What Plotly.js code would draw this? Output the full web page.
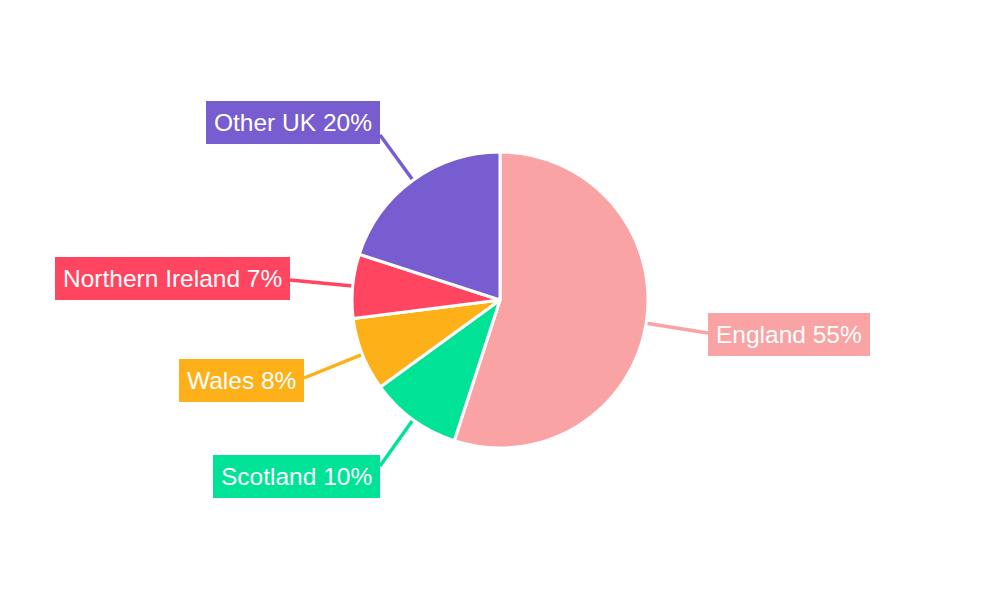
<!DOCTYPE html>
<html>
<head>
<meta charset="utf-8">
<script src="https://cdn.plot.ly/plotly-3.0.1.min.js"></script>
<style>html,body{margin:0;padding:0;background:#fff;}#chart{width:1000px;height:600px;}</style>
</head>
<body>
<div id="chart"></div>
<script>
// Data
const regions = ["England", "Scotland", "Wales", "Northern Ireland", "Other UK"];
const shares = [55, 10, 8, 7, 20];
const colors = ["#F9A3A4", "#00E396", "#FEB019", "#FF4560", "#775DD0"];

// Label layout (pixels): box anchor side, box edge x, box centre y, leader end y
const labelSide = ["left", "right", "right", "right", "right"];
const labelEdgeX = [708, 380, 304, 290, 380];
const labelCenterY = [334, 476, 380, 278, 122];
const leaderEndY = [333, 466, 378, 280, 135];

const W = 1000, H = 600, CX = 500, CY = 300, R = 148;
const px2x = p => p / W;
const px2y = p => 1 - p / H;

const total = shares.reduce((a, b) => a + b, 0);
let cum = 0;
const shapes = [], annotations = [];
shares.forEach((v, i) => {
  const mid = (cum + v / 2) / total * 2 * Math.PI;
  cum += v;
  const hx = CX + R * Math.sin(mid);
  const hy = CY - R * Math.cos(mid);
  shapes.push({
    type: "line", xref: "paper", yref: "paper", layer: "below",
    x0: px2x(hx), y0: px2y(hy), x1: px2x(labelEdgeX[i]), y1: px2y(leaderEndY[i]),
    line: {color: colors[i], width: 3.5}
  });
  annotations.push({
    xref: "paper", yref: "paper",
    x: px2x(labelEdgeX[i]), y: px2y(labelCenterY[i]),
    xanchor: labelSide[i], yanchor: "middle",
    text: regions[i] + " " + Math.round(v / total * 100) + "%",
    showarrow: false, bgcolor: colors[i], borderpad: 8, borderwidth: 0,
    font: {family: "Liberation Sans, Arial, sans-serif", size: 24.5, color: "#ffffff"}
  });
});

const trace = {
  type: "pie",
  labels: regions,
  values: shares,
  sort: false,
  direction: "clockwise",
  rotation: 0,
  marker: {colors: colors, line: {color: "#ffffff", width: 3}},
  textinfo: "none",
  hoverinfo: "none",
  showlegend: false,
  domain: {x: [0, 1], y: [(H - 448) / H, (H - 152) / H]}
};

const layout = {
  width: W, height: H,
  margin: {l: 0, r: 0, t: 0, b: 0},
  paper_bgcolor: "#ffffff",
  showlegend: false,
  shapes: shapes,
  annotations: annotations
};

Plotly.newPlot("chart", [trace], layout, {displayModeBar: false, staticPlot: true});
</script>
</body>
</html>
